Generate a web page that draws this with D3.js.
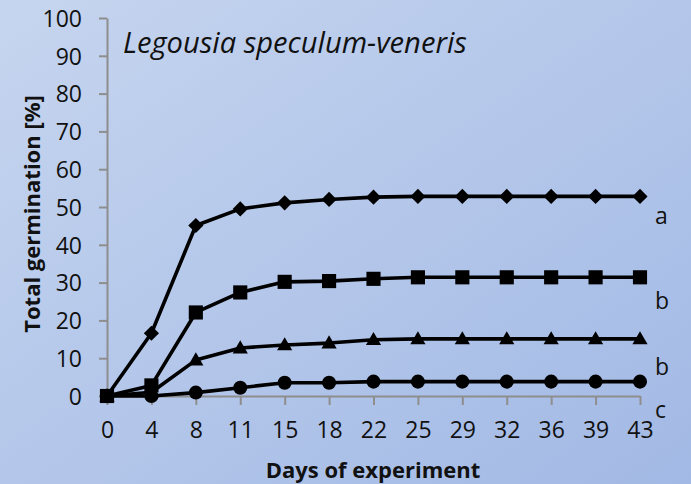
<!DOCTYPE html>
<html>
<head>
<meta charset="utf-8">
<title>Legousia germination</title>
<script src="https://d3js.org/d3.v7.min.js"></script>
<style>
  body { margin: 0; }
  text { font-family: "Open Sans", sans-serif; fill: #111; }
  .axis path, .axis line { stroke: #8e8e8e; stroke-width: 2px; }
  .axis text { font-size: 23px; }
  .series { fill: none; stroke: #000; stroke-width: 3.6px; stroke-linejoin: round; }
</style>
</head>
<body>
<div id="chart"></div>
<script>
var days = ["0", "4", "8", "11", "15", "18", "22", "25", "29", "32", "36", "39", "43"];
var yTicks = [0, 10, 20, 30, 40, 50, 60, 70, 80, 90, 100];

var diamondVals  = [0, 16.6, 45.1, 49.5, 51.1, 52.0, 52.6, 52.8, 52.8, 52.8, 52.8, 52.8, 52.8];
var squareVals   = [0, 2.8, 22.1, 27.4, 30.2, 30.4, 31.0, 31.4, 31.4, 31.4, 31.4, 31.4, 31.4];
var triangleVals = [0, 1.0, 9.5, 12.7, 13.5, 14.0, 14.9, 15.1, 15.1, 15.1, 15.1, 15.1, 15.1];
var circleVals   = [0, 0, 0.9, 2.2, 3.5, 3.5, 3.8, 3.8, 3.8, 3.8, 3.8, 3.8, 3.8];

var groupLetters = ["a", "b", "b", "c"];

var width = 691, height = 484;
var margin = { left: 107, right: 51, top: 18, bottom: 88 };

var svg = d3.select("#chart").append("svg")
    .attr("width", width)
    .attr("height", height);

var defs = svg.append("defs");
var grad = defs.append("linearGradient")
    .attr("id", "bg")
    .attr("x1", "0%").attr("y1", "0%")
    .attr("x2", "100%").attr("y2", "100%");
grad.append("stop").attr("offset", "0%").attr("stop-color", "#c6d5ef");
grad.append("stop").attr("offset", "100%").attr("stop-color", "#a2b9e5");

svg.append("rect")
    .attr("width", width).attr("height", height)
    .attr("fill", "url(#bg)");

var x = d3.scalePoint()
    .domain(days)
    .range([margin.left, width - margin.right]);

var y = d3.scaleLinear()
    .domain([0, 100])
    .range([height - margin.bottom, margin.top]);

// axes
svg.append("g")
    .attr("class", "axis")
    .attr("transform", "translate(" + margin.left + ",0)")
    .call(d3.axisLeft(y).tickValues(yTicks).tickSize(8).tickSizeOuter(0).tickPadding(17))
    .selectAll("text").attr("dy", "0.36em");

svg.append("g")
    .attr("class", "axis")
    .attr("transform", "translate(0," + y(0) + ")")
    .call(d3.axisBottom(x).tickSize(9).tickSizeOuter(0).tickPadding(17));

// series
var series = [
  { vals: diamondVals,  shape: d3.symbolSquare,   size: 115, rot: 45 },
  { vals: squareVals,   shape: d3.symbolSquare,   size: 200, rot: 0 },
  { vals: triangleVals, shape: d3.symbolTriangle, size: 100, rot: 0 },
  { vals: circleVals,   shape: d3.symbolCircle,   size: 155, rot: 0 }
];

var line = d3.line()
    .x(function(d, i) { return x(days[i]); })
    .y(function(d) { return y(d); });

// draw in reverse so the diamond line sits on top
series.slice().reverse().forEach(function(s) {
  svg.append("path")
      .attr("class", "series")
      .attr("d", line(s.vals));

  svg.selectAll(null)
      .data(s.vals)
      .enter()
      .append("path")
      .attr("d", d3.symbol().type(s.shape).size(s.size))
      .attr("transform", function(d, i) {
        var dy = s.shape === d3.symbolTriangle ? 1 : 0;
        return "translate(" + x(days[i]) + "," + (y(d) + dy) + ") rotate(" + s.rot + ")";
      })
      .attr("fill", "#000");
});

// group letters at right
var letterY = [216, 301, 367, 410];
svg.selectAll(".letter")
    .data(groupLetters)
    .enter()
    .append("text")
    .attr("class", "letter")
    .attr("x", 655)
    .attr("y", function(d, i) { return letterY[i]; })
    .attr("dy", "0.36em")
    .style("font-size", "23px")
    .text(function(d) { return d; });

// title
var title = svg.append("text")
    .attr("x", 123)
    .attr("y", 53)
    .style("font-size", "25px")
    .style("font-style", "italic")
    .text("Legousia speculum-veneris");
var tw = title.node().getComputedTextLength();
title.style("font-size", (25 * 344 / tw) + "px");

// axis titles
svg.append("text")
    .attr("transform", "translate(40,214) rotate(-90)")
    .attr("text-anchor", "middle")
    .style("font-size", "22px")
    .style("font-weight", "bold")
    .text("Total germination [%]");

svg.append("text")
    .attr("x", 373)
    .attr("y", 478)
    .attr("text-anchor", "middle")
    .style("font-size", "22px")
    .style("font-weight", "bold")
    .text("Days of experiment");
</script>
</body>
</html>
